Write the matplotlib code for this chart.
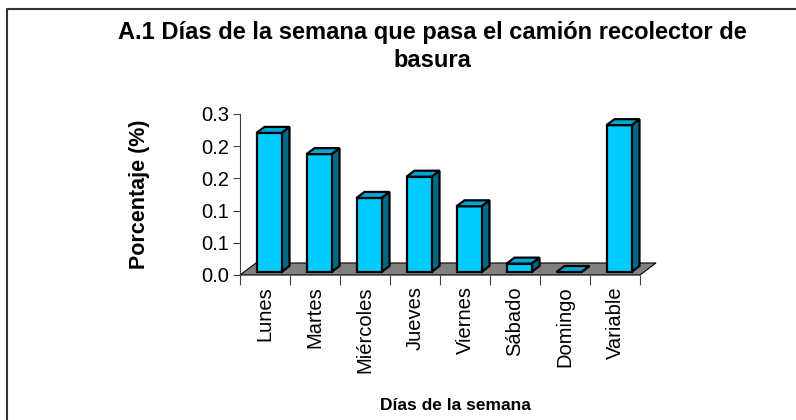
import matplotlib
matplotlib.use("Agg")
import matplotlib.pyplot as plt
from matplotlib.patches import Polygon
from matplotlib.lines import Line2D

plt.rcParams['font.family'] = ['Liberation Sans', 'DejaVu Sans']

# datos
dias = ['Lunes', 'Martes', 'Miércoles', 'Jueves', 'Viernes', 'Sábado', 'Domingo', 'Variable']
porcentaje = [0.216, 0.183, 0.115, 0.148, 0.102, 0.013, 0.0, 0.228]
y_ticks = [0.0, 0.05, 0.10, 0.15, 0.20, 0.25]
y_tick_labels = ['0.0', '0.1', '0.1', '0.2', '0.2', '0.3']

titulo = 'A.1 Días de la semana que pasa el camión recolector de\nbasura'

# colores estilo excel
c_frente = '#00CCFF'
c_lado = '#006A87'
c_arriba = '#00A6D6'
c_piso = '#808080'

W, H = 796, 420
fig = plt.figure(figsize=(W / 100, H / 100), dpi=100)

# ejes: x de 240 a 640 px, y de 275 (0.0) a 114 (0.25)
ax = fig.add_axes([240 / W, (H - 275) / H, 400 / W, 161 / H])
n = len(dias)
ax.set_xlim(-0.5, n - 0.5)
ax.set_ylim(0, 0.25)

# profundidad del efecto 3D (en unidades de datos)
px_x = 1.0 / 50
px_y = 0.25 / 161
prof_x = 16 * px_x
prof_y = 12 * px_y

# piso gris
piso = Polygon([(-0.5, 0), (n - 0.5, 0), (n - 0.5 + prof_x, prof_y), (-0.5 + prof_x, prof_y)],
               closed=True, facecolor=c_piso, edgecolor='black', lw=0.8, clip_on=False, zorder=1)
ax.add_patch(piso)

# barras
ancho = 0.5
off_x = 0.25 * prof_x
off_y = 0.25 * prof_y
bx = 0.5 * prof_x
by = 0.5 * prof_y
xs = [i + off_x for i in range(n)]
barras = ax.bar(xs, porcentaje, width=ancho, bottom=off_y, color=c_frente,
                edgecolor='black', lw=1.6, zorder=3, clip_on=False)
for x, v in zip(xs, porcentaje):
    x0 = x - ancho / 2
    x1 = x + ancho / 2
    y0 = off_y
    y1 = off_y + v
    lado = Polygon([(x1, y0), (x1 + bx, y0 + by), (x1 + bx, y1 + by), (x1, y1)],
                   closed=True, facecolor=c_lado, edgecolor='black', lw=1.6,
                   joinstyle='miter', clip_on=False, zorder=2)
    arriba = Polygon([(x0, y1), (x0 + bx, y1 + by), (x1 + bx, y1 + by), (x1, y1)],
                     closed=True, facecolor=c_arriba, edgecolor='black', lw=1.6,
                     joinstyle='miter', clip_on=False, zorder=4)
    ax.add_patch(lado)
    ax.add_patch(arriba)

# ejes
for s in ['top', 'right', 'bottom']:
    ax.spines[s].set_visible(False)
ax.spines['left'].set_color('#404040')
ax.spines['left'].set_linewidth(0.8)
ax.set_yticks(y_ticks)
ax.set_yticklabels(y_tick_labels, fontsize=14.5)
ax.tick_params(axis='y', length=5, width=0.8, color='#404040', pad=3)

ax.set_xticks(range(n))
ax.set_xticklabels(dias, rotation=90, fontsize=14.5)
ax.tick_params(axis='x', which='major', length=0, pad=8)
ax.set_xticks([i - 0.5 for i in range(n + 1)], minor=True)
ax.tick_params(axis='x', which='minor', length=7, width=0.8, color='#404040')

fig.text(139 / W, 1 - 194 / H, 'Porcentaje (%)', rotation=90, ha='center', va='center',
         fontsize=15.5, fontweight='bold')
fig.text(455 / W, 1 - 405 / H, 'Días de la semana', ha='center', va='center',
         fontsize=12.5, fontweight='bold')
fig.text(432 / W, 1 - 46.5 / H, titulo, ha='center', va='center', fontsize=17,
         fontweight='bold', linespacing=1.3)

# borde del area del grafico
fig.add_artist(Line2D([7.5 / W, 7.5 / W, 1.0], [0.0, 1 - 8.5 / H, 1 - 8.5 / H],
                      color='#333333', lw=1.5, transform=fig.transFigure))

fig.savefig('out.png', dpi=100)
